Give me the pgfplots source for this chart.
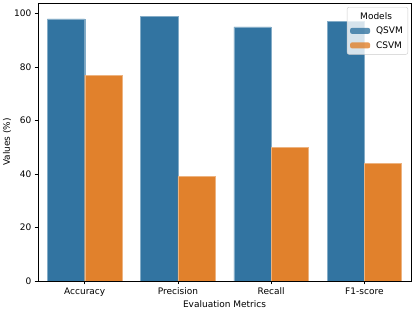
\documentclass[border=0pt]{standalone}
\usepackage{fontspec}
\setmainfont{DejaVu Sans}
\usepackage{pgfplots}
\pgfplotsset{compat=1.18}
\definecolor{qblue}{HTML}{3274A1}
\definecolor{corange}{HTML}{E1812C}
\begin{document}
\fontsize{9bp}{11bp}\selectfont
\begin{tikzpicture}
\begin{axis}[
  name=ax,
  scale only axis,
  width=373bp, height=278bp,
  xmin=-0.5, xmax=3.5,
  ymin=0, ymax=103.95,
  xtick={0,1,2,3},
  xticklabels={Accuracy,Precision,Recall,F1-score},
  ytick={0,20,40,60,80,100},
  tick align=outside,
  xtick pos=bottom, ytick pos=left,
  major tick length=3.5bp,
  tick style={black, line width=0.8bp},
  axis line style={black, line width=0.8bp},
  /pgf/number format/assume math mode=true,
  tick label style={font=\fontsize{9bp}{11bp}\selectfont},
  label style={font=\fontsize{9bp}{11bp}\selectfont},
  xlabel={Evaluation Metrics},
  ylabel={Values (\%)},
  xlabel style={yshift=2bp},
  ylabel style={yshift=-3bp},
  bar width=0.4,
  legend style={at={(1,1)}, anchor=north east, xshift=-3bp, yshift=-4bp,
    draw=black!20, fill=white, fill opacity=0.8, text opacity=1,
    rounded corners=2bp, font=\fontsize{9bp}{11bp}\selectfont,
    cells={anchor=west}, row sep=2.5bp, inner xsep=3bp, inner ysep=3bp},
  legend cell align=left,
]
\addlegendimage{empty legend}
\addlegendentry{\hspace{-17bp}\makebox[34bp][c]{Models}}
\addplot[ybar, bar shift=-0.2, fill=qblue, draw=qblue!60!white, line width=0.4bp,
  area legend, legend image code/.code={\fill[qblue,draw=none] (0bp,-3bp) rectangle (20bp,3bp); \path[draw=none,fill=none] (0bp,0bp) -- (24bp,0bp);}]
  coordinates {(0,98) (1,99) (2,95) (3,97)};
\addlegendentry{QSVM}
\addplot[ybar, bar shift=0.2, fill=corange, draw=corange!60!white, line width=0.4bp,
  area legend, legend image code/.code={\fill[corange,draw=none] (0bp,-3bp) rectangle (20bp,3bp); \path[draw=none,fill=none] (0bp,0bp) -- (24bp,0bp);}]
  coordinates {(0,77) (1,39) (2,50) (3,44)};
\addlegendentry{CSVM}
\end{axis}
\path (ax.north east) ++(4bp,3bp);
\end{tikzpicture}
\end{document}
